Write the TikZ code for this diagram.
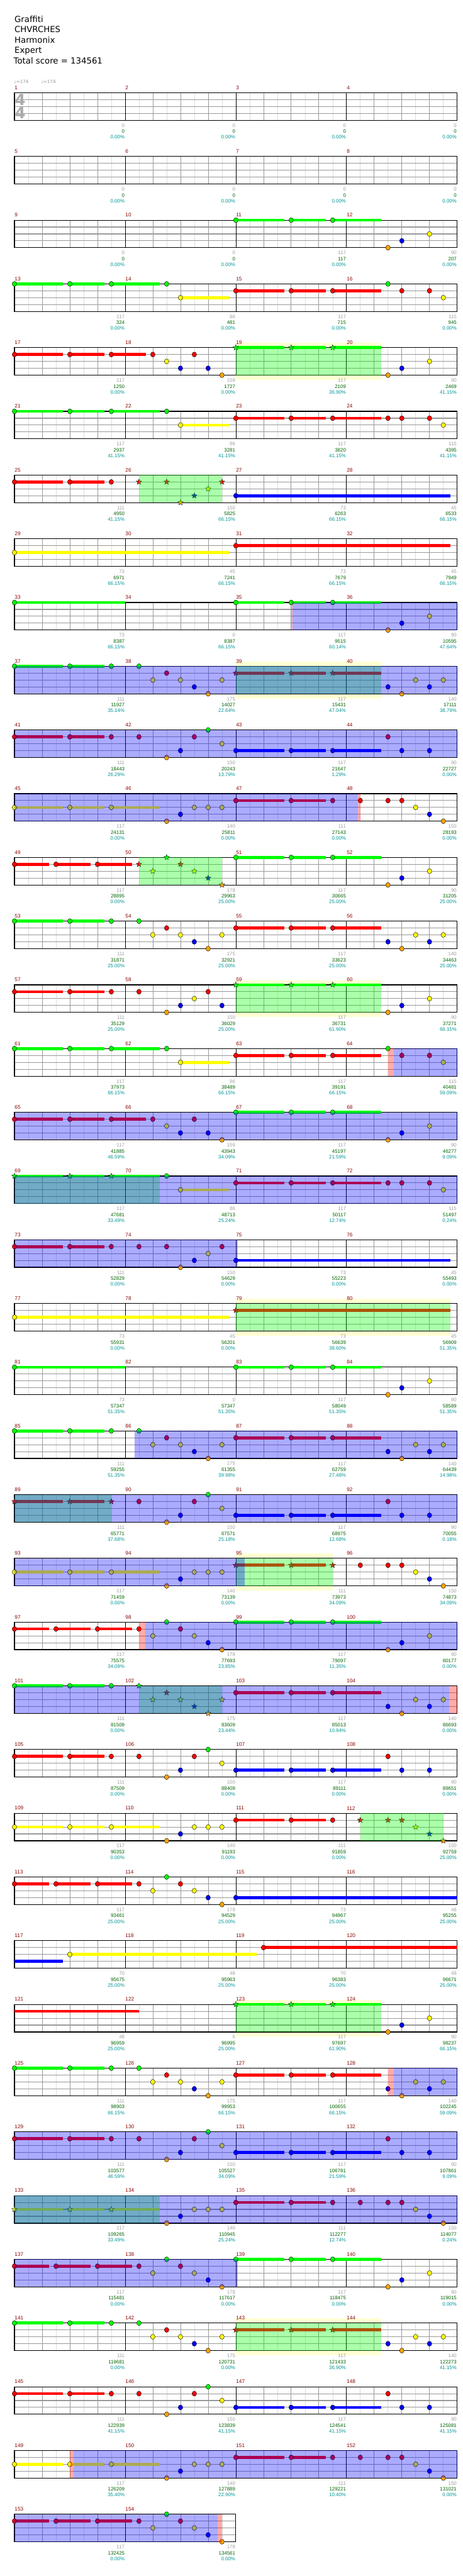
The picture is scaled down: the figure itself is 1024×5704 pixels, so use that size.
\documentclass[tikz,border=0pt]{standalone}
\usepackage{fontspec}
\setmainfont{DejaVu Sans}
\newfontfamily\numfont{Liberation Sans}
\usetikzlibrary{shapes.geometric}
\definecolor{ln0}{RGB}{0,255,0}
\definecolor{ln1}{RGB}{255,0,0}
\definecolor{ln2}{RGB}{255,255,0}
\definecolor{ln3}{RGB}{0,0,255}
\definecolor{ln4}{RGB}{255,165,0}
\definecolor{lightg}{RGB}{221,221,221}
\definecolor{beatg}{RGB}{153,153,153}
\definecolor{mred}{RGB}{139,0,0}
\definecolor{numgray}{RGB}{160,160,160}
\definecolor{numgreen}{RGB}{0,100,0}
\definecolor{numpct}{RGB}{0,150,150}
\definecolor{halocol}{RGB}{255,255,210}
\definecolor{tsgray}{RGB}{170,170,170}
\definecolor{tempog}{RGB}{150,150,150}
\tikzset{
 rw/.style={shift={(32pt,{-205.3pt-141.1pt*#1})},x=61.25pt,y=-15.25pt},
 eighthl/.style={draw=lightg,line width=0.8pt},
 beatl/.style={draw=beatg,line width=0.9pt},
 lanel/.style={draw=beatg,line width=1.5pt},
 measl/.style={draw=black,line width=0.9pt},
 borderl/.style={draw=black,line width=1.6pt},
 gemsty/.style={draw=black,line width=0.6pt},
 starsty/.style={star,star points=5,star point ratio=2.3,minimum size=13pt,inner sep=0pt,draw=black!85,line width=0.6pt},
 mnum/.style={anchor=west,inner sep=0pt,xshift=0.5pt,text=mred,font=\numfont\fontsize{11.5}{12}\selectfont},
 snum/.style={anchor=east,inner sep=0pt,xshift=-1pt,font=\numfont\fontsize{11}{12}\selectfont},
 tsig/.style={inner sep=0pt,text=tsgray,font=\bfseries\fontsize{34}{34}\selectfont},
 titl/.style={anchor=base west,inner sep=0pt,font=\fontsize{18.5}{19}\selectfont},
 tempo/.style={anchor=base west,inner sep=0pt,text=tempog,font=\fontsize{10}{10}\selectfont},
}
\newcommand\gem[2]{\filldraw[gemsty,fill=ln#2] (#1,#2) ellipse [x radius=5pt,y radius=5.5pt];}
\newcommand\strr[2]{\node[starsty,fill=ln#2] at (#1,#2) {};}
\newcommand\sus[3]{\draw[draw=ln#3,line width=6.5pt] (#1,#3) -- (#2,#3);}
\newcommand\GG[2]{\foreach \bt in {#2}{\gem{\bt}{#1}}}
\newcommand\GS[2]{\foreach \bt in {#2}{\strr{\bt}{#1}}}
\newcommand\triA[3][\gem]{\sus{#3}{#3+1.75}{#2}\sus{#3+2}{#3+3.25}{#2}\sus{#3+3.5}{#3+5.25}{#2}#1{#3}{#2}#1{#3+2}{#2}#1{#3+3.5}{#2}}
\newcommand\triB[3][\gem]{\sus{#3}{#3+1.75}{#2}\sus{#3+2}{#3+3.25}{#2}#1{#3}{#2}#1{#3+2}{#2}#1{#3+3.5}{#2}}
\newcommand\triC[3][\gem]{\sus{#3}{#3+1.75}{#2}\sus{#3+2}{#3+3.25}{#2}\sus{#3+3.5}{#3+4.75}{#2}#1{#3}{#2}#1{#3+2}{#2}#1{#3+3.5}{#2}}
\newcommand\triD[3][\gem]{\sus{#3}{#3+1.25}{#2}\sus{#3+1.5}{#3+2.75}{#2}\sus{#3+3}{#3+4.25}{#2}#1{#3}{#2}#1{#3+1.5}{#2}#1{#3+3}{#2}}
\newcommand\mdA{\GG{2}{5,6,7.5}\GG{1}{5.5}\GG{3}{6.5}\GG{4}{7}}
\newcommand\mdB{\GG{1}{4.5,6.5}\GG{4}{5.5}\GG{3}{6}\GG{0}{7}\GG{2}{7.5}}
\newcommand\mdC{\GG{4}{5.5}\GG{3}{6}\GG{2}{6.5,7,7.5}}
\newcommand\mdD{\GG{1}{4.5,6}\GG{2}{5,6.5}\GG{0}{5.5}\GG{3}{7}\GG{4}{7.5}}
\newcommand\edA{\GG{4}{13.5}\GG{3}{14}\GG{2}{15}}
\newcommand\edC{\GG{3}{13.5,15}\GG{4}{14}\GG{2}{14.5,15.5}}
\newcommand\edD{\GG{1}{13.5}\GG{3}{14,15}}
\newcommand\edE{\GG{1}{12.5,13.5,14}\GG{2}{14.5}\GG{3}{15}\GG{4}{15.5}}
\newcommand\halo[2]{\fill[halocol] (#1,-0.68) rectangle (#2,4.68);}
\newcommand\spr[2]{\fill[ln0,fill opacity=0.33] (#1,0) rectangle (#2,4);}
\newcommand\solo[2]{\fill[ln3,fill opacity=0.33] (#1,0) rectangle (#2,4);}
\newcommand\pnk[2]{\fill[ln1,fill opacity=0.33] (#1,0) rectangle (#2,4);}
\newcommand\staff[2]{%
 \pgfmathtruncatemacro\nb{4*#1}%
 \pgfmathtruncatemacro\nbb{4*#1-1}%
 \pgfmathtruncatemacro\nmm{#1-1}%
 \fill[white] (0,0) rectangle (\nb,4);
 \foreach \i in {1,...,\nb} {\draw[eighthl] (\i-0.5,0) -- (\i-0.5,4);}
 \foreach \i in {1,...,\nbb} {\draw[beatl] (\i,0) -- (\i,4);}
 \foreach \l in {1,2,3} {\draw[lanel] (0,\l) -- (\nb,\l);}
 \foreach \m in {1,...,\nmm} {\draw[measl] (4*\m,0) -- (4*\m,4);}
 \draw[borderl] (0,0) rectangle (\nb,4);
 \foreach \m in {1,...,#1} {\pgfmathtruncatemacro\mn{#2+\m-1}\node[mnum] at ({4*(\m-1)},-0.734) {\mn};}
}
\newcommand\nums[1]{\foreach \ga/\gb/\gc [count=\c] in {#1}{%
 \node[snum,text=numgray] at (4*\c,4.754) {\ga};
 \node[snum,text=numgreen] at (4*\c,5.64) {\gb};
 \node[snum,text=numpct] at (4*\c,6.47) {\gc};}}
\begin{document}
\begin{tikzpicture}
\useasboundingbox (0,0) rectangle (1024pt,-5704pt);
\fill[white] (0,0) rectangle (1024pt,-5704pt);
\node[titl] (t1) at (32pt,-49.3pt) {Graffiti};
\node[titl] (t2) at (32pt,-72pt) {CHVRCHES};
\node[titl] (t3) at (32pt,-95pt) {Harmonix};
\node[titl] (t4) at (32pt,-117.7pt) {Expert};
\node[titl] (t5) at (30pt,-140.7pt) {Total score = 134561};
\node[tempo] (tp1) at (31pt,-185pt) {♩=174};
\node[tempo] (tp2) at (91pt,-185pt) {♩=174};
% row 0
\begin{scope}[rw=0]
\staff{4}{1}
\node[tsig] (ts1) at (0.21,1.02) {4};
\node[tsig] (ts2) at (0.21,2.93) {4};
\nums{0/0/0.00\%,0/0/0.00\%,0/0/0.00\%,0/0/0.00\%}
\end{scope}
\begin{scope}[rw=1]
\staff{4}{5}
\nums{0/0/0.00\%,0/0/0.00\%,0/0/0.00\%,0/0/0.00\%}
\end{scope}
\begin{scope}[rw=2]
\staff{4}{9}
\triA{0}{8}\edA
\nums{0/0/0.00\%,0/0/0.00\%,117/117/0.00\%,90/207/0.00\%}
\end{scope}
\begin{scope}[rw=3]
\staff{4}{13}
\triA{0}{0}\GG{0}{5.5}\sus{6}{7.75}{2}\GG{2}{6}\triA{1}{8}\GG{0}{13.5}\GG{1}{14,15}\GG{2}{15.5}
\nums{117/324/0.00\%,86/481/0.00\%,117/715/0.00\%,115/945/0.00\%}
\end{scope}
\begin{scope}[rw=4]
\halo{8}{13.25}\staff{4}{17}
\triC{1}{0}\GG{1}{5,6.5}\GG{2}{5.5}\GG{3}{6,7}\GG{4}{7.5}
\triA[\strr]{0}{8}\edA
\spr{8}{13.25}
\nums{117/1250/0.00\%,159/1727/0.00\%,117/2109/36.90\%,90/2469/41.15\%}
\end{scope}
\begin{scope}[rw=5]
\staff{4}{21}
\triA{0}{0}\GG{0}{5.5}\sus{6}{7.75}{2}\GG{2}{6}\triA{1}{8}\GG{1}{13.5,14,15}\GG{2}{15.5}
\nums{117/2937/41.15\%,86/3281/41.15\%,117/3820/41.15\%,115/4395/41.15\%}
\end{scope}
\begin{scope}[rw=6]
\staff{4}{25}
\triB{1}{0}\GS{1}{4.5,5.5,7.5}\GS{4}{6}\GS{3}{6.5}\GS{2}{7}\sus{8}{15.75}{3}\gem{8}{3}
\spr{4.5}{7.5}
\nums{111/4950/41.15\%,150/5825/66.15\%,73/6263/66.15\%,45/6533/66.15\%}
\end{scope}
\begin{scope}[rw=7]
\staff{4}{29}
\sus{0}{7.75}{2}\gem{0}{2}\sus{8}{15.75}{1}\gem{8}{1}
\nums{73/6971/66.15\%,45/7241/66.15\%,73/7679/66.15\%,45/7949/66.15\%}
\end{scope}
\begin{scope}[rw=8]
\staff{4}{33}
\sus{0}{4}{0}\gem{0}{0}\triA{0}{8}\edA
\solo{10.05}{16}\pnk{10}{10.05}
\nums{73/8387/66.15\%,0/8387/66.15\%,117/9515/60.14\%,90/10595/47.64\%}
\end{scope}
\begin{scope}[rw=9]
\halo{8}{13.25}\staff{4}{37}
\triB{0}{0}\GG{0}{4.5}\mdA\triA[\strr]{1}{8}\edC
\spr{8}{13.25}\solo{0}{16}
\nums{111/11927/35.14\%,175/14027/22.64\%,117/15431/47.04\%,140/17111/38.79\%}
\end{scope}
\begin{scope}[rw=10]
\staff{4}{41}
\triB{1}{0}\mdB\triA{3}{8}\edD
\solo{0}{16}
\nums{111/18443/26.29\%,150/20243/13.79\%,117/21647/1.29\%,90/22727/0.00\%}
\end{scope}
\begin{scope}[rw=11]
\staff{4}{45}
\triA{2}{0}\mdC\triB{1}{8}\edE
\solo{0}{12.41}\pnk{12.41}{12.5}
\nums{117/24131/0.00\%,140/25811/0.00\%,111/27143/0.00\%,150/28193/0.00\%}
\end{scope}
\begin{scope}[rw=12]
\staff{4}{49}
\triD{1}{0}\GS{1}{4.5,6}\GS{2}{5,6.5}\GS{0}{5.5}\GS{3}{7}\GS{4}{7.5}\triA{0}{8}\edA
\spr{4.5}{7.5}
\nums{117/28895/0.00\%,178/29963/25.00\%,117/30665/25.00\%,90/31205/25.00\%}
\end{scope}
\begin{scope}[rw=13]
\staff{4}{53}
\triB{0}{0}\GG{0}{4.5}\mdA\triA{1}{8}\edC
\nums{111/31871/25.00\%,175/32921/25.00\%,117/33623/25.00\%,140/34463/25.00\%}
\end{scope}
\begin{scope}[rw=14]
\halo{8}{13.25}\staff{4}{57}
\triB{1}{0}\GG{1}{4.5,7}\GG{4}{5.5}\GG{3}{6,7.5}\GG{2}{6.5}\triA[\strr]{0}{8}\edA
\spr{8}{13.25}
\nums{111/35129/25.00\%,150/36029/25.00\%,117/36731/61.90\%,90/37271/66.15\%}
\end{scope}
\begin{scope}[rw=15]
\staff{4}{61}
\triA{0}{0}\GG{0}{5.5}\sus{6}{7.75}{2}\GG{2}{6}\triA{1}{8}\GG{0}{13.5}\GG{1}{14,15}\GG{2}{15.5}
\solo{13.72}{16}\pnk{13.5}{13.72}
\nums{117/37973/66.15\%,86/38489/66.15\%,117/39191/66.15\%,115/40481/59.09\%}
\end{scope}
\begin{scope}[rw=16]
\staff{4}{65}
\triC{1}{0}\GG{1}{5,6.5}\GG{2}{5.5}\GG{3}{6,7}\GG{4}{7.5}\triA{0}{8}\edA
\solo{0}{16}
\nums{117/41885/46.59\%,159/43943/34.09\%,117/45197/21.59\%,90/46277/9.09\%}
\end{scope}
\begin{scope}[rw=17]
\staff{4}{69}
\triA[\strr]{0}{0}\GG{0}{5.5}\sus{6}{7.75}{2}\GG{2}{6}\triA{1}{8}\GG{1}{13.5,14,15}\GG{2}{15.5}
\spr{0}{5.25}\solo{0}{16}
\nums{117/47681/33.49\%,86/48713/25.24\%,117/50117/12.74\%,115/51497/0.24\%}
\end{scope}
\begin{scope}[rw=18]
\staff{4}{73}
\triB{1}{0}\GG{1}{4.5,5.5,7.5}\GG{4}{6}\GG{3}{6.5}\GG{2}{7}\sus{8}{15.75}{3}\gem{8}{3}
\solo{0}{8.07}
\nums{111/52829/0.00\%,150/54629/0.00\%,73/55223/0.00\%,45/55493/0.00\%}
\end{scope}
\begin{scope}[rw=19]
\halo{8}{15.75}\staff{4}{77}
\sus{0}{7.75}{2}\gem{0}{2}\sus{8}{15.75}{1}\strr{8}{1}
\spr{8}{15.75}
\nums{73/55931/0.00\%,45/56201/0.00\%,73/56639/38.60\%,45/56909/51.35\%}
\end{scope}
\begin{scope}[rw=20]
\staff{4}{81}
\sus{0}{4}{0}\gem{0}{0}\triA{0}{8}\edA
\nums{73/57347/51.35\%,0/57347/51.35\%,117/58049/51.35\%,90/58589/51.35\%}
\end{scope}
\begin{scope}[rw=21]
\staff{4}{85}
\triB{0}{0}\GG{0}{4.5}\mdA\triA{1}{8}\edC
\solo{4.34}{16}
\nums{111/59255/51.35\%,175/61355/39.98\%,117/62759/27.48\%,140/64439/14.98\%}
\end{scope}
\begin{scope}[rw=22]
\staff{4}{89}
\triB[\strr]{1}{0}\mdB\triA{3}{8}\edD
\spr{0}{3.5}\solo{0}{16}
\nums{111/65771/37.68\%,150/67571/25.18\%,117/68975/12.68\%,90/70055/0.18\%}
\end{scope}
\begin{scope}[rw=23]
\halo{8}{11.5}\staff{4}{93}
\triA{2}{0}\mdC\triB[\strr]{1}{8}\edE
\spr{8}{11.5}\solo{0}{8.32}
\nums{117/71459/0.00\%,140/73139/0.00\%,111/73973/34.09\%,150/74873/34.09\%}
\end{scope}
\begin{scope}[rw=24]
\staff{4}{97}
\triD{1}{0}\mdD\triA{0}{8}\edA
\solo{4.72}{16}\pnk{4.5}{4.72}
\nums{117/75575/34.09\%,178/77693/23.85\%,117/79097/11.35\%,90/80177/0.00\%}
\end{scope}
\begin{scope}[rw=25]
\staff{4}{101}
\triB{0}{0}\GS{0}{4.5}\GS{2}{5,6,7.5}\GS{1}{5.5}\GS{3}{6.5}\GS{4}{7}\triA{1}{8}\edC
\spr{4.5}{7.5}\solo{0}{15.72}\pnk{15.72}{16}
\nums{111/81509/0.00\%,175/83609/23.44\%,117/85013/10.94\%,140/86693/0.00\%}
\end{scope}
\begin{scope}[rw=26]
\staff{4}{105}
\triB{1}{0}\mdB\triA{3}{8}\edD
\nums{111/87509/0.00\%,150/88409/0.00\%,117/89111/0.00\%,90/89651/0.00\%}
\end{scope}
\begin{scope}[rw=27]
\staff{4}{109}
\triA{2}{0}\mdC\triB{1}{8}\GS{1}{12.5,13.5,14}\GS{2}{14.5}\GS{3}{15}\GS{4}{15.5}
\spr{12.5}{15.5}
\nums{117/90353/0.00\%,140/91193/0.00\%,111/91859/0.00\%,150/92759/25.00\%}
\end{scope}
\begin{scope}[rw=28]
\staff{4}{113}
\triD{1}{0}\mdD\sus{8}{16}{3}\gem{8}{3}
\nums{117/93461/25.00\%,178/94529/25.00\%,73/94967/25.00\%,48/95255/25.00\%}
\end{scope}
\begin{scope}[rw=29]
\staff{4}{117}
\sus{0}{1.75}{3}\sus{2}{8.75}{2}\gem{2}{2}\sus{9}{16}{1}\gem{9}{1}
\nums{70/95675/25.00\%,48/95963/25.00\%,70/96383/25.00\%,48/96671/25.00\%}
\end{scope}
\begin{scope}[rw=30]
\halo{8}{13.25}\staff{4}{121}
\sus{0}{4.5}{1}\triA[\strr]{0}{8}\edA
\spr{8}{13.25}
\nums{48/96959/25.00\%,6/96995/25.00\%,117/97697/61.90\%,90/98237/66.15\%}
\end{scope}
\begin{scope}[rw=31]
\staff{4}{125}
\triB{0}{0}\GG{0}{4.5}\mdA\triA{1}{8}\edC
\solo{13.72}{16}\pnk{13.5}{13.72}
\nums{111/98903/66.15\%,175/99953/66.15\%,117/100655/66.15\%,140/102245/59.09\%}
\end{scope}
\begin{scope}[rw=32]
\staff{4}{129}
\triB{1}{0}\mdB\triA{3}{8}\edD
\solo{0}{16}
\nums{111/103577/46.59\%,150/105527/34.09\%,117/106781/21.59\%,90/107861/9.09\%}
\end{scope}
\begin{scope}[rw=33]
\staff{4}{133}
\triA[\strr]{2}{0}\mdC\triB{1}{8}\edE
\spr{0}{5.25}\solo{0}{16}
\nums{117/109265/33.49\%,140/110945/25.24\%,111/112277/12.74\%,150/114077/0.24\%}
\end{scope}
\begin{scope}[rw=34]
\staff{4}{137}
\triD{1}{0}\mdD\triA{0}{8}\edA
\solo{0}{8.07}
\nums{117/115481/0.00\%,178/117617/0.00\%,117/118475/0.00\%,90/119015/0.00\%}
\end{scope}
\begin{scope}[rw=35]
\halo{8}{13.25}\staff{4}{141}
\triB{0}{0}\GG{0}{4.5}\mdA\triA[\strr]{1}{8}\edC
\spr{8}{13.25}
\nums{111/119681/0.00\%,175/120731/0.00\%,117/121433/36.90\%,140/122273/41.15\%}
\end{scope}
\begin{scope}[rw=36]
\staff{4}{145}
\triB{1}{0}\mdB\triA{3}{8}\edD
\nums{111/122939/41.15\%,150/123839/41.15\%,117/124541/41.15\%,90/125081/41.15\%}
\end{scope}
\begin{scope}[rw=37]
\staff{4}{149}
\triA{2}{0}\mdC\triB{1}{8}\edE
\solo{2.14}{16}\pnk{2}{2.14}
\nums{117/126209/35.40\%,140/127889/22.90\%,111/129221/10.40\%,150/131021/0.00\%}
\end{scope}
\begin{scope}[rw=38]
\staff{2}{153}
\triD{1}{0}\mdD
\solo{0}{7.34}\pnk{7.34}{7.5}
\nums{117/132425/0.00\%,178/134561/0.00\%}
\end{scope}
\end{tikzpicture}
\end{document}
